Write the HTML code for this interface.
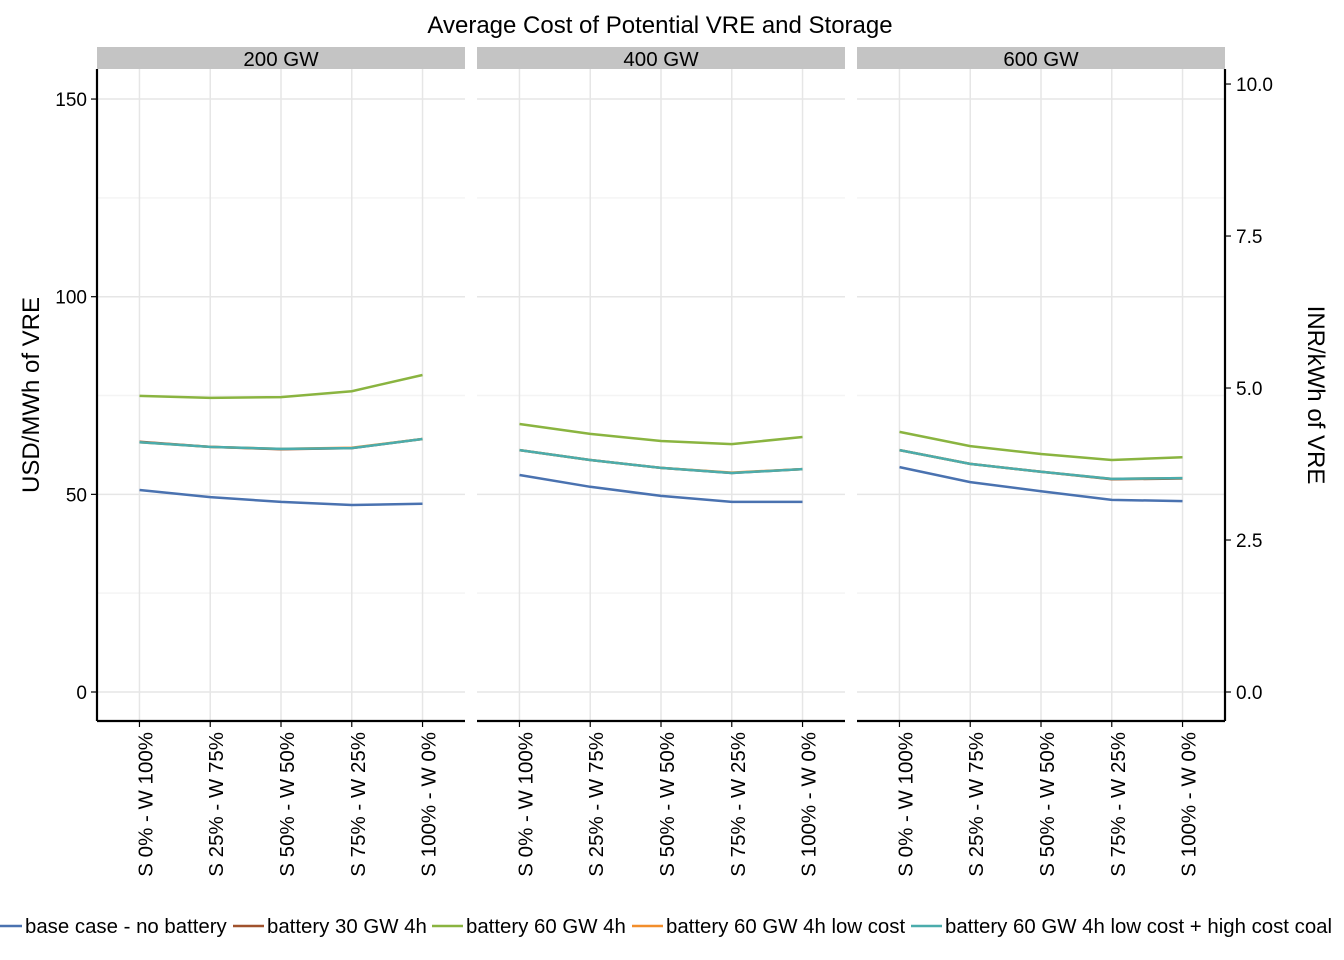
<!DOCTYPE html>
<html><head><meta charset="utf-8"><style>
body{margin:0;background:#fff}
svg{display:block;font-family:"Liberation Sans",Arial,sans-serif}
</style></head><body>
<svg id="chart" width="1344" height="960" xmlns="http://www.w3.org/2000/svg">
<text x="660" y="33" font-size="24" text-anchor="middle">Average Cost of Potential VRE and Storage</text>
<text transform="translate(39,395) rotate(-90)" font-size="24" text-anchor="middle">USD/MWh of VRE</text>
<text transform="translate(1308,395) rotate(90)" font-size="24" text-anchor="middle">INR/kWh of VRE</text>
<g id="panels"></g>
<g id="legend"></g>
</svg>
<script>
const panels = ["200 GW","400 GW","600 GW"];
const categories = ["S 0% - W 100%","S 25% - W 75%","S 50% - W 50%","S 75% - W 25%","S 100% - W 0%"];
const seriesNames = ["base case - no battery","battery 30 GW 4h","battery 60 GW 4h","battery 60 GW 4h low cost","battery 60 GW 4h low cost + high cost coal"];
const seriesColors = ["#4a72b0","#a0522d","#8ab440","#f28e2b","#4bacac"];
const baseCase = [[51.1,49.3,48.1,47.3,47.6],[54.9,51.9,49.6,48.1,48.1],[56.9,53.1,50.8,48.6,48.3]];
const bat30 = [[63.3,62.0,61.4,61.7,64.0],[61.2,58.7,56.7,55.4,56.4],[61.2,57.7,55.7,53.8,54.0]];
const bat60 = [[74.9,74.4,74.6,76.1,80.2],[67.8,65.3,63.5,62.7,64.5],[65.8,62.2,60.2,58.7,59.4]];
const bat60low = [[63.2,62.0,61.5,61.8,64.0],[61.2,58.7,56.7,55.5,56.4],[61.2,57.7,55.7,53.9,54.1]];
const bat60coal = [[63.2,62.0,61.5,61.7,64.0],[61.2,58.7,56.7,55.4,56.4],[61.2,57.7,55.7,53.9,54.1]];
const seriesData = [baseCase,bat30,bat60,bat60low,bat60coal];
const yTicks = [0,50,100,150];
const yMinor = [25,75,125];
const y2Ticks = ["0.0","2.5","5.0","7.5","10.0"];
const usdPerInr = 15.38;

const NS="http://www.w3.org/2000/svg";
const plotTop=69, plotBottom=721;
const panelX0=[97,477,857], panelW=368;
function y(v){return 692 - v*3.953;}
function x(p,i){return panelX0[p] + (i+0.6)*panelW/5.2;}
function mk(tag,attrs,parent){const e=document.createElementNS(NS,tag);for(const k in attrs)e.setAttribute(k,attrs[k]);parent.appendChild(e);return e;}
const G=document.getElementById('panels');
panels.forEach((pn,p)=>{
  const g=mk('g',{},G);
  
  
  const strip=mk('rect',{x:panelX0[p],y:47,width:panelW,height:22,fill:'#c4c4c4'},g);
  
  
  const st=mk('text',{x:panelX0[p]+panelW/2,y:66,'font-size':20.5,'text-anchor':'middle'},g);st.textContent=pn;
  
  
  yMinor.forEach(v=>mk('line',{x1:panelX0[p],x2:panelX0[p]+panelW,y1:y(v),y2:y(v),stroke:'#f4f4f4','stroke-width':1.5},g));
  yTicks.forEach(v=>mk('line',{x1:panelX0[p],x2:panelX0[p]+panelW,y1:y(v),y2:y(v),stroke:'#e6e6e6','stroke-width':1.5},g));
  categories.forEach((c,i)=>{
    mk('line',{x1:x(p,i),x2:x(p,i),y1:plotTop,y2:plotBottom,stroke:'#e6e6e6','stroke-width':1.5},g);
    mk('line',{x1:x(p,i),x2:x(p,i),y1:plotBottom,y2:plotBottom+6,stroke:'#000','stroke-width':1.2},g);
    const t=mk('text',{transform:`translate(${x(p,i)+13},732) rotate(-90)`,'font-size':20.5,'text-anchor':'end'},g);
    t.textContent=c;
    
    
  });
  seriesData.forEach((sd,s)=>{
    const pts=sd[p].map((v,i)=>x(p,i).toFixed(1)+','+y(v).toFixed(1)).join(' ');
    const l=mk('polyline',{points:pts,fill:'none',stroke:seriesColors[s],'stroke-width':2.5},g);
    
    
  });
  mk('line',{x1:panelX0[p],x2:panelX0[p]+panelW,y1:plotBottom,y2:plotBottom,stroke:'#000','stroke-width':2.2},g);
});
mk('line',{x1:97,x2:97,y1:plotTop,y2:plotBottom,stroke:'#000','stroke-width':2.2},G);
mk('line',{x1:1225,x2:1225,y1:plotTop,y2:plotBottom,stroke:'#000','stroke-width':2.2},G);
yTicks.forEach(v=>{
  mk('line',{x1:91,x2:97,y1:y(v),y2:y(v),stroke:'#000','stroke-width':1.2},G);
  const t=mk('text',{x:87,y:y(v)+7,'font-size':19,'text-anchor':'end'},G);t.textContent=v;
  
  
});
y2Ticks.forEach(s=>{
  const yy=y(parseFloat(s)*usdPerInr);
  mk('line',{x1:1225,x2:1231,y1:yy,y2:yy,stroke:'#000','stroke-width':1.2},G);
  const t=mk('text',{x:1236,y:yy+7,'font-size':19},G);t.textContent=s;
  
  
});
const L=document.getElementById('legend');
const lx=[0,233,432,632,911];
seriesNames.forEach((n,s)=>{
  const g=mk('g',{},L);
  
  
  mk('line',{x1:lx[s],x2:lx[s]+31,y1:926,y2:926,stroke:seriesColors[s],'stroke-width':2.5},g);
  const t=mk('text',{x:lx[s]+34,y:933,'font-size':20.4},g);t.textContent=n;
});
L.children[0].children[0].setAttribute('x1',-9);
L.children[0].children[0].setAttribute('x2',22);
L.children[0].children[1].setAttribute('x',25);
</script>
</body></html>
